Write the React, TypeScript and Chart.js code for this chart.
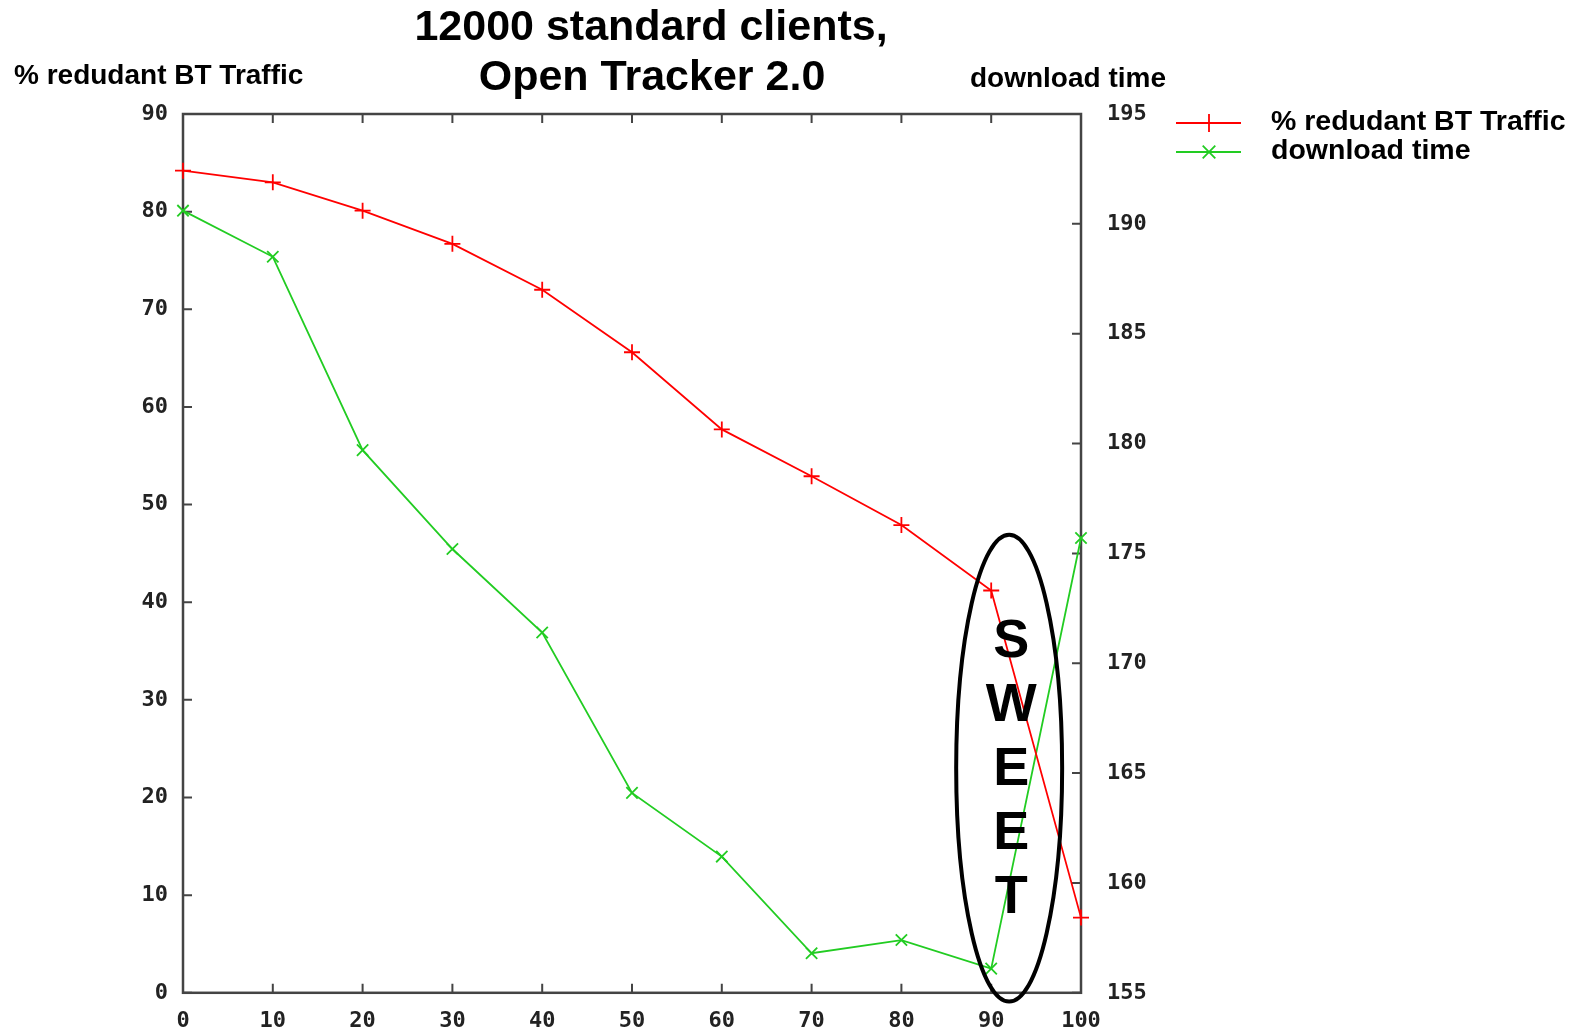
import React, { useEffect, useRef } from "react";
import { Chart, registerables } from "chart.js";

Chart.register(...registerables);

const xValues = [0, 10, 20, 30, 40, 50, 60, 70, 80, 90, 100];
const redundantTraffic = [84.2, 83.0, 80.1, 76.7, 72.0, 65.6, 57.7, 52.9, 47.9, 41.2, 7.7];
const downloadTime = [190.6, 188.5, 179.7, 175.2, 171.4, 164.1, 161.2, 156.8, 157.4, 156.1, 175.7];

const titleLines = ["12000 standard clients,", "Open Tracker 2.0"];
const leftAxisTitle = "% redudant BT Traffic";
const rightAxisTitle = "download time";
const seriesNames = ["% redudant BT Traffic", "download time"];
const sweetLetters = ["S", "W", "E", "E", "T"];

const RED = "#ff0000";
const GREEN = "#22cc22";
const TICK_FONT = { family: "'DejaVu Sans Mono', monospace", size: 22, weight: "bold" as const };
const TEXT_FONT = "'Liberation Sans', Arial, sans-serif";

const decorPlugin = {
  id: "decor",
  beforeDatasetsDraw(chart: any) {
    const { ctx, chartArea: a, scales } = chart;
    ctx.save();
    ctx.strokeStyle = "#444";
    ctx.lineWidth = 2.5;
    ctx.strokeRect(a.left, a.top, a.right - a.left, a.bottom - a.top);
    ctx.lineWidth = 2;
    const len = 9;
    ctx.beginPath();
    scales.x.ticks.forEach((t: any) => {
      const px = scales.x.getPixelForValue(t.value);
      ctx.moveTo(px, a.bottom);
      ctx.lineTo(px, a.bottom - len);
      ctx.moveTo(px, a.top);
      ctx.lineTo(px, a.top + len);
    });
    scales.y.ticks.forEach((t: any) => {
      const py = scales.y.getPixelForValue(t.value);
      ctx.moveTo(a.left, py);
      ctx.lineTo(a.left + len, py);
    });
    scales.y2.ticks.forEach((t: any) => {
      const py = scales.y2.getPixelForValue(t.value);
      ctx.moveTo(a.right, py);
      ctx.lineTo(a.right - len, py);
    });
    ctx.stroke();
    ctx.restore();
  },
  afterDraw(chart: any) {
    const { ctx, scales } = chart;
    ctx.save();
    ctx.fillStyle = "#000";
    ctx.textAlign = "center";
    ctx.textBaseline = "alphabetic";
    ctx.font = `bold 43px ${TEXT_FONT}`;
    ctx.fillText(titleLines[0], 651, 40);
    ctx.fillText(titleLines[1], 652, 90);

    ctx.font = `bold 28px ${TEXT_FONT}`;
    ctx.textAlign = "left";
    ctx.fillText(leftAxisTitle, 14, 84);
    ctx.fillText(rightAxisTitle, 970, 87);

    // legend
    const legendItems = [
      { name: seriesNames[0], color: RED, y: 123, style: "cross" },
      { name: seriesNames[1], color: GREEN, y: 152, style: "crossRot" },
    ];
    legendItems.forEach((it) => {
      ctx.strokeStyle = it.color;
      ctx.lineWidth = 1.8;
      ctx.beginPath();
      ctx.moveTo(1176, it.y);
      ctx.lineTo(1241, it.y);
      const cx = 1209;
      const r = 9;
      if (it.style === "cross") {
        ctx.moveTo(cx, it.y - r);
        ctx.lineTo(cx, it.y + r);
      } else {
        ctx.moveTo(cx - r * 0.7, it.y - r * 0.7);
        ctx.lineTo(cx + r * 0.7, it.y + r * 0.7);
        ctx.moveTo(cx - r * 0.7, it.y + r * 0.7);
        ctx.lineTo(cx + r * 0.7, it.y - r * 0.7);
      }
      ctx.stroke();
      ctx.fillStyle = "#000";
      ctx.font = `bold 28.5px ${TEXT_FONT}`;
      ctx.textBaseline = "middle";
      ctx.fillText(it.name, 1271, it.y - 1);
    });

    // SWEET ellipse annotation
    const cx = scales.x.getPixelForValue(92);
    const cy = scales.y.getPixelForValue(23);
    const rx = scales.x.getPixelForValue(92 + 5.9) - cx;
    const ry = cy - scales.y.getPixelForValue(23 + 23.9);
    ctx.strokeStyle = "#000";
    ctx.lineWidth = 4;
    ctx.beginPath();
    ctx.ellipse(cx, cy, rx, ry, 0, 0, Math.PI * 2);
    ctx.stroke();
    ctx.fillStyle = "#000";
    ctx.font = `bold 54px ${TEXT_FONT}`;
    ctx.textAlign = "center";
    ctx.textBaseline = "middle";
    sweetLetters.forEach((ch, i) => {
      ctx.fillText(ch, cx + 2, cy - 126 + i * 64);
    });
    ctx.restore();
  },
};

export default function App() {
  const ref = useRef<HTMLCanvasElement | null>(null);
  useEffect(() => {
    document.body.style.margin = "0";
    const canvas = ref.current!;
    const chart = new Chart(canvas, {
      type: "line",
      data: {
        datasets: [
          {
            label: seriesNames[0],
            data: xValues.map((x, i) => ({ x, y: redundantTraffic[i] })),
            borderColor: RED,
            backgroundColor: RED,
            borderWidth: 1.8,
            pointStyle: "cross",
            pointRadius: 8,
            pointBorderWidth: 1.8,
            yAxisID: "y",
            clip: false,
          },
          {
            label: seriesNames[1],
            data: xValues.map((x, i) => ({ x, y: downloadTime[i] })),
            borderColor: GREEN,
            backgroundColor: GREEN,
            borderWidth: 1.8,
            pointStyle: "crossRot",
            pointRadius: 8,
            pointBorderWidth: 1.8,
            yAxisID: "y2",
            clip: false,
          },
        ],
      },
      options: {
        animation: false,
        responsive: false,
        layout: { padding: { top: 114, left: 0, right: 0, bottom: 0 } },
        plugins: { legend: { display: false }, tooltip: { enabled: false }, title: { display: false } },
        scales: {
          x: {
            type: "linear",
            min: 0,
            max: 100,
            ticks: { stepSize: 10, font: TICK_FONT, color: "#222", padding: 15, maxRotation: 0 },
            grid: { display: false, drawTicks: false },
            border: { display: false },
            afterFit: (s: any) => { s.height = 38; },
          },
          y: {
            position: "left",
            min: 0,
            max: 90,
            ticks: { stepSize: 10, font: TICK_FONT, color: "#222", padding: 15 },
            grid: { display: false, drawTicks: false },
            border: { display: false },
            afterFit: (s: any) => { s.width = 183; },
          },
          y2: {
            position: "right",
            min: 155,
            max: 195,
            ticks: { stepSize: 5, font: TICK_FONT, color: "#222", padding: 26 },
            grid: { display: false, drawTicks: false },
            border: { display: false },
            afterFit: (s: any) => { s.width = 493; },
          },
        },
      } as any,
      plugins: [decorPlugin],
    });
    return () => chart.destroy();
  }, []);
  return (
    <div style={{ position: "absolute", left: 0, top: 0, width: 1574, height: 1032, background: "#fff" }}>
      <canvas ref={ref} width={1574} height={1032} style={{ width: 1574, height: 1032 }} />
    </div>
  );
}
